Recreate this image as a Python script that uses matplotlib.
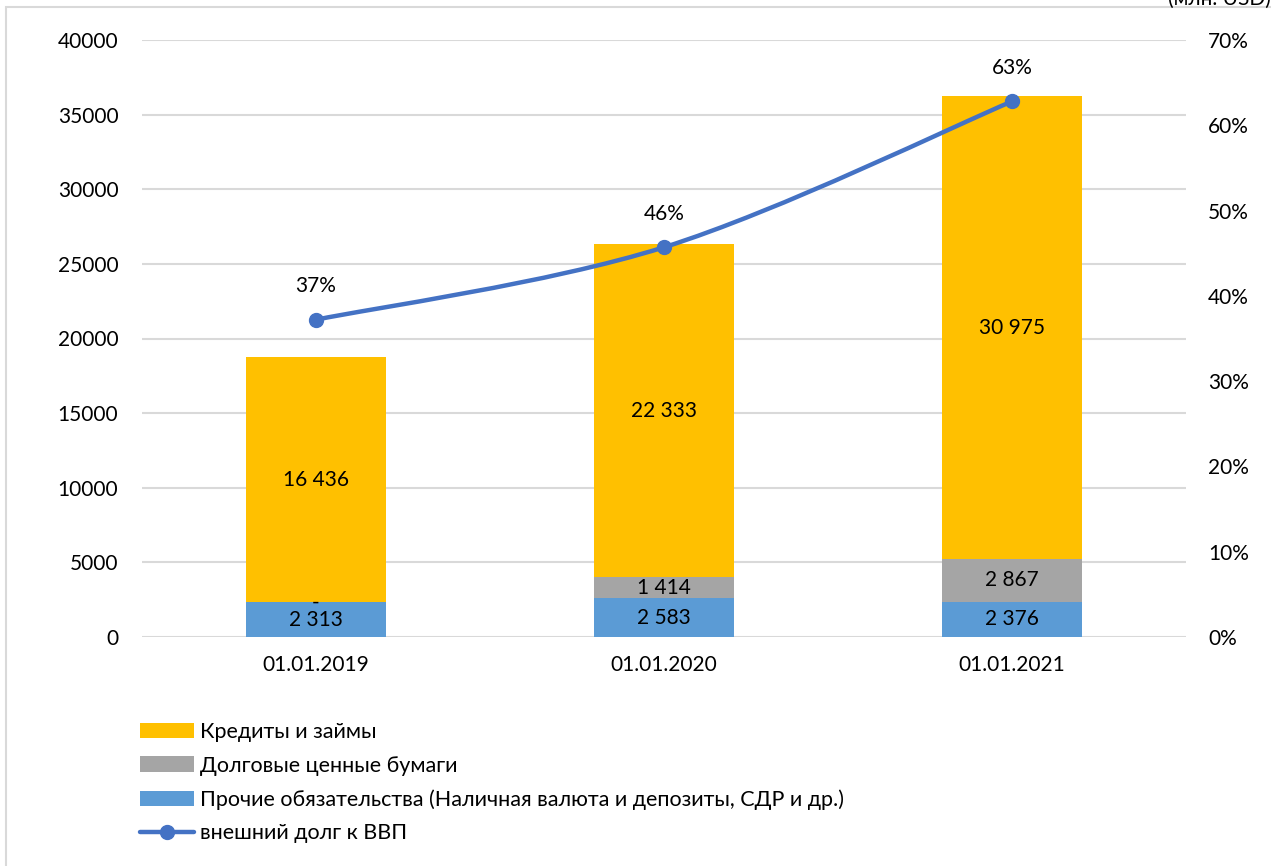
import matplotlib
matplotlib.use("Agg")
import matplotlib.pyplot as plt
import numpy as np
from matplotlib.path import Path
from matplotlib.patches import PathPatch, Rectangle
from matplotlib.lines import Line2D

# data
dates = ["01.01.2019", "01.01.2020", "01.01.2021"]
prochie = [2313, 2583, 2376]          # Прочие обязательства
bumagi = [0, 1414, 2867]              # Долговые ценные бумаги
kredity = [16436, 22333, 30975]       # Кредиты и займы
dolg_vvp = [0.372, 0.457, 0.628]      # внешний долг к ВВП

c_yellow = "#FFC000"
c_gray = "#A5A5A5"
c_blue = "#5B9BD5"
c_line = "#4472C4"
c_grid = "#D9D9D9"

plt.rcParams['font.family'] = ['Lato', 'DejaVu Sans']
fs = 15

fig = plt.figure(figsize=(12.71, 8.66), dpi=100)
ax = fig.add_axes([142/1271, 1-637/866, (1186-142)/1271, (637-40)/866])

x = np.arange(len(dates))
w = 0.4
b1 = ax.bar(x, prochie, w, color=c_blue)
b2 = ax.bar(x, bumagi, w, bottom=prochie, color=c_gray)
bot2 = np.array(prochie) + np.array(bumagi)
b3 = ax.bar(x, kredity, w, bottom=bot2, color=c_yellow)

def fmt(v):
  if v == 0:
    return "-"
  return f"{v:,}".replace(",", " ")

ax.bar_label(b1, labels=[fmt(v) for v in prochie], label_type='center', fontsize=fs)
ax.bar_label(b2, labels=[fmt(v) for v in bumagi], label_type='center', fontsize=fs)
ax.bar_label(b3, labels=[fmt(v) for v in kredity], label_type='center', fontsize=fs)

ax.set_xlim(-0.5, 2.5)
ax.set_ylim(0, 40000)
ax.set_yticks(range(0, 40001, 5000))
ax.set_xticks(x)
ax.set_xticklabels(dates)
ax.tick_params(axis='both', length=0, labelsize=fs)
ax.tick_params(axis='y', pad=17)
ax.tick_params(axis='x', pad=13)
ax.grid(axis='y', color=c_grid, linewidth=1.5)
ax.set_axisbelow(True)
for s in ax.spines.values():
  s.set_visible(False)

ax2 = ax.twinx()
ax2.set_ylim(0, 0.7)
ax2.set_yticks(np.arange(0, 0.71, 0.1))
ax2.set_yticklabels([f"{int(round(t*100))}%" for t in np.arange(0, 0.71, 0.1)])
ax2.tick_params(axis='y', length=0, labelsize=fs, pad=16)
for s in ax2.spines.values():
  s.set_visible(False)

# smoothed line (Excel style bezier segments)
px = list(x.astype(float))
py = list(dolg_vvp)
verts = [(px[0], py[0])]
codes = [Path.MOVETO]
n = len(px)
for i in range(n-1):
  p0 = (px[max(i-1, 0)], py[max(i-1, 0)])
  p1 = (px[i], py[i])
  p2 = (px[i+1], py[i+1])
  p3 = (px[min(i+2, n-1)], py[min(i+2, n-1)])
  c1 = (p1[0] + (p2[0]-p0[0])/6, p1[1] + (p2[1]-p0[1])/6)
  c2 = (p2[0] - (p3[0]-p1[0])/6, p2[1] - (p3[1]-p1[1])/6)
  verts += [c1, c2, p2]
  codes += [Path.CURVE4]*3
ax2.add_patch(PathPatch(Path(verts, codes), fill=False, edgecolor=c_line, linewidth=3.2, capstyle='round'))
ax2.plot(x, dolg_vvp, 'o', color=c_line, markersize=10)
for xi, yi in zip(x, dolg_vvp):
  ax2.annotate(f"{yi*100:.0f}%", (xi, yi), xytext=(0, 17), textcoords='offset points',
               ha='center', va='bottom', fontsize=fs)

handles = [b3, b2, b1,
           Line2D([], [], color=c_line, linewidth=3.2, marker='o', markersize=10, solid_capstyle='round')]
labels = ["Кредиты и займы", "Долговые ценные бумаги",
          "Прочие обязательства (Наличная валюта и депозиты, СДР и др.)", "внешний долг к ВВП"]
fig.legend(handles, labels, loc='upper left', bbox_to_anchor=(140/1271, 1-722/866),
           frameon=False, fontsize=15.5, handlelength=2.5, handletextpad=0.3,
           labelspacing=0.63, borderpad=0, borderaxespad=0)

fig.text(1.0, 1-5/866, "(млн. USD)", ha='right', va='baseline', fontsize=fs)
fig.patches.append(Rectangle((6/1271, -0.1), 1.2, 1.1-7/866, transform=fig.transFigure,
                             fill=False, edgecolor=c_grid, linewidth=1.5))

fig.savefig("out.png", dpi=100)
